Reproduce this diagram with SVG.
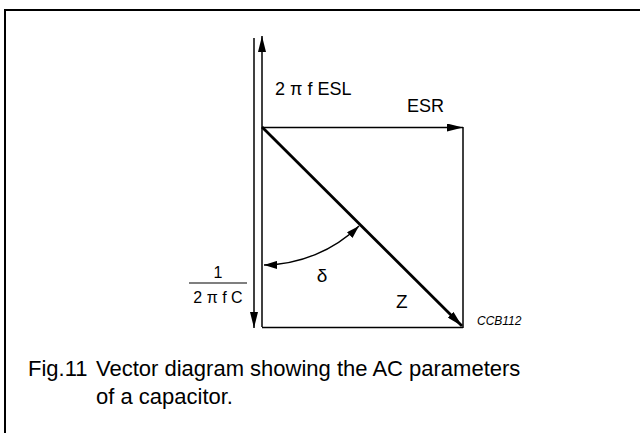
<svg xmlns="http://www.w3.org/2000/svg" width="640" height="433" viewBox="0 0 640 433">
<style>
.ln{stroke:#000;stroke-width:1.5;fill:none}
.t{font-family:"Liberation Sans",Arial,sans-serif;fill:#000}
.cap{font-size:22px}
</style>
<defs>
<marker id="ah" markerUnits="userSpaceOnUse" markerWidth="16" markerHeight="8" refX="16" refY="4" orient="auto"><path d="M0,0 L16,4 L0,8 z" fill="#000"/></marker>
<marker id="ahs" markerUnits="userSpaceOnUse" markerWidth="13" markerHeight="8" refX="13" refY="4" orient="auto-start-reverse"><path d="M0,0 L13,4 L0,8 z" fill="#000"/></marker>
</defs>
<rect x="5" y="10" width="700" height="500" fill="none" stroke="#000" stroke-width="2"/>
<g id="connectors">
<line class="ln" x1="254" y1="38" x2="254" y2="328" marker-end="url(#ah)"/>
<line class="ln" x1="262" y1="327" x2="262" y2="36" marker-end="url(#ah)"/>
<line class="ln" x1="262" y1="127.5" x2="463" y2="127.5" marker-end="url(#ah)"/>
<line class="ln" x1="463" y1="127" x2="463" y2="328"/>
<line class="ln" x1="262" y1="327.5" x2="463" y2="327.5"/>
<line x1="262" y1="127" x2="462" y2="326" stroke="#000" stroke-width="2.8" marker-end="url(#ah)"/>
<path class="ln" stroke-width="1.2" d="M264,265 A138,138 0 0 0 359,226" marker-start="url(#ahs)" marker-end="url(#ahs)"/>
</g>
<g id="label-esl"><text class="t" x="275" y="95" font-size="18">2 π f ESL</text></g>
<g id="label-esr"><text class="t" x="407" y="112" font-size="18">ESR</text></g>
<g id="label-c">
<text class="t" x="218" y="278" font-size="16" text-anchor="middle">1</text>
<line x1="189" y1="283" x2="247" y2="283" stroke="#000" stroke-width="1.2"/>
<text class="t" x="218" y="303" font-size="16" text-anchor="middle">2 π f C</text>
</g>
<g id="label-delta"><text class="t" x="322" y="282" font-size="19" text-anchor="middle">δ</text></g>
<g id="label-z"><text class="t" x="396" y="308" font-size="19">Z</text></g>
<g id="label-code"><text class="t" x="477" y="325" font-size="12" font-style="italic">CCB112</text></g>
<g id="caption">
<text class="t cap" x="28" y="376">Fig.11</text>
<text class="t cap" x="96" y="376">Vector diagram showing the AC parameters</text>
<text class="t cap" x="96" y="404">of a capacitor.</text>
</g>
</svg>
